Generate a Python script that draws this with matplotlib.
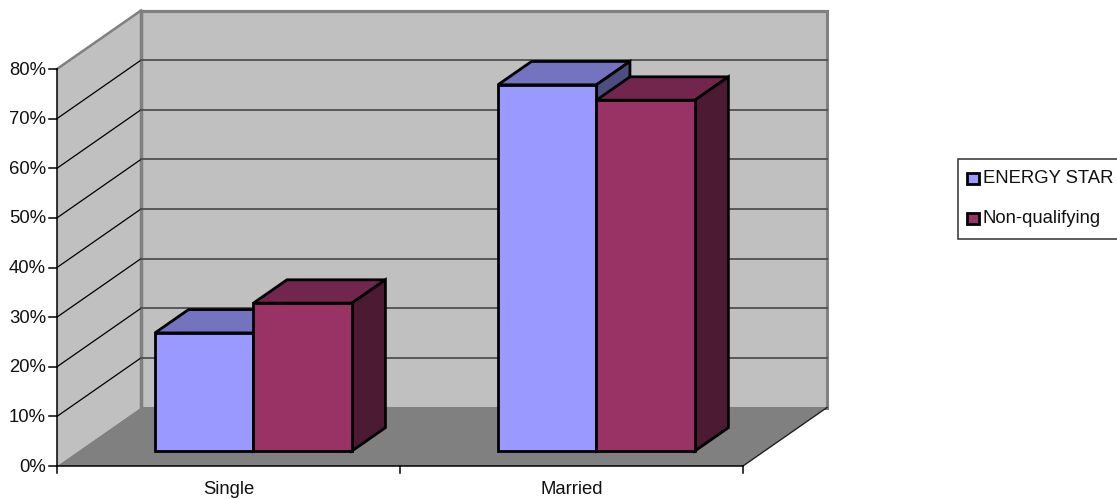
import matplotlib
matplotlib.use('Agg')
import matplotlib.pyplot as plt
from matplotlib.patches import Polygon, Rectangle

categories = ['Single', 'Married']
series_names = ['ENERGY STAR', 'Non-qualifying']
energy_star = [23.8, 73.8]
non_qualifying = [29.8, 70.7]
y_ticks = [0, 10, 20, 30, 40, 50, 60, 70, 80]

series = [energy_star, non_qualifying]
face_colors = ['#9999ff', '#993366']
top_colors = ['#7373bf', '#73264d']
side_colors = ['#4d4d80', '#4d1a33']

# oblique projection of the plot box, in pixels
X0, Y0 = 57, 466
CAT_W = 343
PX_PER_PCT = 4.9625
DEPTH_X, DEPTH_Y = 84, 58.5

BAR_OFFSET = 0.223
BAR_W = 0.287
BAR_D0 = 0.256
BAR_D1 = 0.655

TEXT_SIZE = 13.3


def proj(cat, value, depth):
    return (X0 + cat * CAT_W + depth * DEPTH_X,
            Y0 - value * PX_PER_PCT - depth * DEPTH_Y)


plt.rcParams['font.family'] = ['Liberation Sans', 'DejaVu Sans']
fig = plt.figure(figsize=(11.17, 4.99), dpi=100)
ax = fig.add_axes([0, 0, 1, 1])
ax.set_xlim(0, 1117)
ax.set_ylim(499, 0)
ax.axis('off')

n_cat = len(categories)
y_max = y_ticks[-1]
wall_edge = '#808080'

# walls and floor
ax.add_patch(Polygon([proj(0, 0, 1), proj(n_cat, 0, 1), proj(n_cat, y_max, 1), proj(0, y_max, 1)],
                     fc='#c0c0c0', ec=wall_edge, lw=2.2, joinstyle='miter', zorder=1))
ax.add_patch(Polygon([proj(0, 0, 0), proj(0, 0, 1), proj(0, y_max, 1), proj(0, y_max, 0)],
                     fc='#c0c0c0', ec='none', zorder=1.1))
ax.plot(*zip(proj(0, y_max, 0), proj(0, y_max, 1)), color=wall_edge, lw=1.8, zorder=1.2)
ax.plot(*zip(proj(0, 0, 1), proj(0, y_max, 1)), color=wall_edge, lw=2.5, zorder=1.2)
ax.add_patch(Polygon([proj(0, 0, 0), proj(n_cat, 0, 0), proj(n_cat, 0, 1), proj(0, 0, 1)],
                     fc='#808080', ec='none', zorder=1.3))
ax.plot(*zip(proj(n_cat, 0, 0), proj(n_cat, 0, 1)), color='#202020', lw=1, zorder=1.4)

# gridlines on the walls
for v in y_ticks[1:-1]:
    ax.plot(*zip(proj(0, v, 0), proj(0, v, 1)), color='black', lw=0.9, zorder=1.5)
    ax.plot(*zip(proj(0, v, 1), proj(n_cat, v, 1)), color='#505050', lw=1.3, zorder=1.5)
ax.plot(*zip(proj(0, y_max, 1), proj(n_cat, y_max, 1)), color=wall_edge, lw=2.2, zorder=1.5)

# bars
z = 2
for i in range(n_cat):
    for j, vals in enumerate(series):
        v = vals[i]
        c0 = i + BAR_OFFSET + j * BAR_W
        c1 = c0 + BAR_W
        style = dict(ec='black', lw=2, joinstyle='miter', zorder=z)
        ax.add_patch(Polygon([proj(c0, v, BAR_D0), proj(c1, v, BAR_D0), proj(c1, v, BAR_D1), proj(c0, v, BAR_D1)],
                             fc=top_colors[j], **style))
        ax.add_patch(Polygon([proj(c1, 0, BAR_D0), proj(c1, 0, BAR_D1), proj(c1, v, BAR_D1), proj(c1, v, BAR_D0)],
                             fc=side_colors[j], **style))
        ax.add_patch(Polygon([proj(c0, 0, BAR_D0), proj(c1, 0, BAR_D0), proj(c1, v, BAR_D0), proj(c0, v, BAR_D0)],
                             fc=face_colors[j], **style))
        z += 1

# axes lines, ticks and labels
ax.plot(*zip(proj(0, 0, 0), proj(0, y_max, 0)), color='black', lw=1.1, zorder=10)
ax.plot(*zip(proj(0, 0, 0), proj(n_cat, 0, 0)), color='black', lw=1.1, zorder=10)
for v in y_ticks:
    x, y = proj(0, v, 0)
    ax.plot([x - 8, x], [y, y], color='black', lw=1.1, zorder=10)
    ax.text(x - 11, y + 1, f'{v}%', ha='right', va='center', fontsize=TEXT_SIZE, color='#111111')
for i in range(n_cat + 1):
    x, y = proj(i, 0, 0)
    ax.plot([x, x], [y, y + 7], color='black', lw=1.1, zorder=10)
for i, name in enumerate(categories):
    x, y = proj(i + 0.5, 0, 0)
    ax.text(x, y + 24, name, ha='center', va='center', fontsize=TEXT_SIZE, color='#111111')

# legend box runs past the right edge of the figure
ax.add_patch(Rectangle((957.5, 158.5), 170, 80, fc='white', ec='#303030', lw=1.1, zorder=10))
legend_y = [178, 218]
for name, fc, ly in zip(series_names, face_colors, legend_y):
    ax.add_patch(Rectangle((966.5, ly - 5), 12, 10.5, fc=fc, ec='black', lw=2, zorder=11))
    ax.text(983, ly + 0.5, name, ha='left', va='center', fontsize=TEXT_SIZE, color='#111111', zorder=11)

fig.savefig('out.png', dpi=100)
